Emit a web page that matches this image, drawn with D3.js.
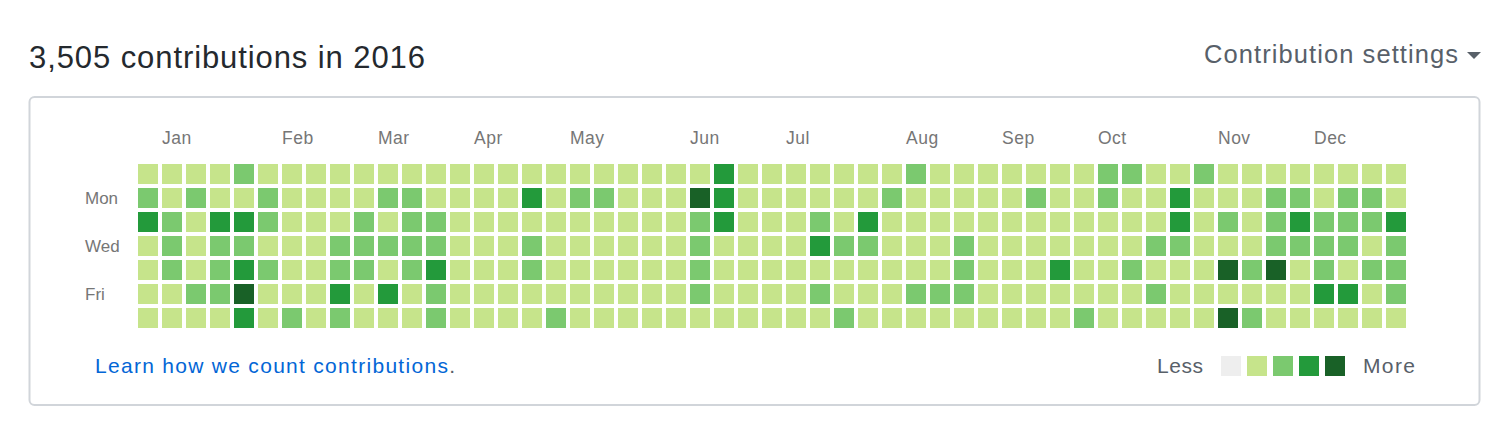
<!DOCTYPE html>
<html>
<head>
<meta charset="utf-8">
<script src="https://cdn.jsdelivr.net/npm/d3@7"></script>
<style>
  html, body { margin: 0; padding: 0; background: #fff; }
  svg { display: block; }
</style>
</head>
<body>
<svg id="chart" width="1510" height="438"></svg>
<script>
// ---- data ----
const title = "3,505 contributions in 2016";
const monthLabels = ["Jan","Feb","Mar","Apr","May","Jun","Jul","Aug","Sep","Oct","Nov","Dec"];
const monthStartWeek = [1, 6, 10, 14, 18, 23, 27, 32, 36, 40, 45, 49];
const dayLabels = ["", "Mon", "", "Wed", "", "Fri", ""];
const levelColors = ["#ebedf0", "#c6e48b", "#7bc96f", "#239a3b", "#196127"];
const legendLevels = [0, 1, 2, 3, 4];
// contribution level per week (53 columns), one array per weekday row
const sun = [1,1,1,1,2,1,1,1,1,1,1,1,1, 1,1,1,1,1,1,1,1,1,1,1,3,1,1, 1,1,1,1,1,2,1,1,1,1,1,1,1, 2,2,1,1,2,1,1,1,1,1,1,1,1];
const mon = [2,1,2,1,1,2,1,1,1,1,2,2,1, 1,1,1,3,1,2,2,1,1,1,4,3,1,1, 1,1,1,1,2,1,1,1,1,1,2,1,1, 2,1,1,3,1,1,1,2,2,1,2,2,1];
const tue = [3,2,1,3,3,2,1,1,1,2,1,2,2, 1,1,1,1,1,1,1,1,1,1,2,3,1,1, 1,2,1,3,1,1,1,1,1,1,1,1,1, 1,1,1,3,1,2,1,2,3,2,2,2,3];
const wed = [1,2,1,2,2,1,1,1,2,2,2,2,2, 1,1,1,2,1,1,1,1,1,1,2,1,1,1, 1,3,2,2,1,1,1,2,1,1,1,1,1, 1,1,2,2,1,1,1,2,2,2,2,1,2];
const thu = [1,2,1,2,3,2,1,1,2,2,1,2,3, 1,1,1,2,1,1,1,1,1,1,2,1,1,1, 1,1,1,1,1,1,1,2,1,1,1,3,1, 1,2,1,1,1,4,2,4,1,2,1,2,2];
const fri = [1,1,2,2,4,1,1,1,3,1,3,1,2, 1,1,1,1,1,1,1,1,1,1,2,1,1,1, 1,2,1,1,1,2,2,2,1,1,1,1,1, 1,1,2,1,1,1,1,1,1,3,3,1,2];
const sat = [1,1,1,1,3,1,2,1,2,1,1,1,2, 1,1,1,1,2,1,1,1,1,1,1,1,1,1, 1,1,2,1,1,1,1,1,1,1,1,1,2, 1,1,1,1,1,4,2,1,1,1,1,1,1];
const dayRows = [sun, mon, tue, wed, thu, fri, sat];

// ---- drawing ----
const svg = d3.select("#chart");
const font = "'Helvetica Neue', Helvetica, 'Liberation Sans', Arial, sans-serif";

// widen text a little with letter-spacing so it spans the same width as the reference
function fit(sel, target) {
  const node = sel.node();
  const w = node.getComputedTextLength();
  const n = node.textContent.length;
  if (n > 1) sel.attr("letter-spacing", ((target - w) / (n - 1)).toFixed(3));
  return sel;
}

const nWeeks = sun.length;
const x = d3.scaleBand().domain(d3.range(nWeeks)).range([136, 136 + nWeeks * 24])
  .paddingInner(1/6).paddingOuter(1/12);
const y = d3.scaleBand().domain(d3.range(7)).range([162, 162 + 7 * 24])
  .paddingInner(1/6).paddingOuter(1/12);
const color = d3.scaleOrdinal().domain(legendLevels).range(levelColors);

// title
fit(svg.append("text").attr("x", 29).attr("y", 68).attr("font-family", font)
  .attr("font-size", 31).attr("fill", "#24292e").text(title), 396);

// settings
fit(svg.append("text").attr("x", 1204).attr("y", 63)
  .attr("font-family", font).attr("font-size", 25.5).attr("fill", "#586069")
  .text("Contribution settings"), 254);
svg.append("path").attr("d", "M1467,52 L1481,52 L1474,59 Z").attr("fill", "#586069");

// box
svg.append("rect").attr("x", 29.5).attr("y", 97).attr("width", 1450).attr("height", 308)
  .attr("rx", 5).attr("fill", "#fff").attr("stroke", "#d1d5da").attr("stroke-width", 2);

// cells
const cells = [];
dayRows.forEach((row, d) => row.forEach((v, w) => cells.push({w, d, v})));
svg.append("g").selectAll("rect").data(cells).join("rect")
  .attr("x", c => x(c.w)).attr("y", c => y(c.d))
  .attr("width", x.bandwidth()).attr("height", y.bandwidth())
  .attr("fill", c => color(c.v));

// month labels
svg.append("g").selectAll("text").data(monthLabels).join("text")
  .attr("x", (m, i) => x(monthStartWeek[i])).attr("y", 144)
  .attr("font-family", font).attr("font-size", 17.5).attr("fill", "#767676")
  .attr("letter-spacing", 0.5)
  .text(m => m);

// day labels
svg.append("g").selectAll("text").data(dayLabels.map((t, i) => ({t, i})).filter(o => o.t))
  .join("text")
  .attr("x", 85).attr("y", o => y(o.i) + y.bandwidth() / 2 + 6)
  .attr("font-family", font).attr("font-size", 17).attr("fill", "#767676")
  .text(o => o.t);

// footer link
const link = svg.append("text").attr("x", 95).attr("y", 373).attr("font-family", font)
  .attr("font-size", 21);
link.append("tspan").attr("fill", "#0366d6").text("Learn how we count contributions");
link.append("tspan").attr("fill", "#586069").text(".");
fit(link, 360);

// legend
fit(svg.append("text").attr("x", 1157).attr("y", 373)
  .attr("font-family", font).attr("font-size", 21).attr("fill", "#586069").text("Less"), 46);
const lx = d3.scaleBand().domain(legendLevels).range([1218, 1218 + 5 * 26]).paddingInner(6/26).paddingOuter(3/26);
svg.append("g").selectAll("rect").data(legendLevels).join("rect")
  .attr("x", l => lx(l)).attr("y", 356).attr("width", lx.bandwidth()).attr("height", 20)
  .attr("fill", l => l === 0 ? "#eeeeee" : color(l));
fit(svg.append("text").attr("x", 1363).attr("y", 373)
  .attr("font-family", font).attr("font-size", 21).attr("fill", "#586069").text("More"), 52);
</script>
</body>
</html>
